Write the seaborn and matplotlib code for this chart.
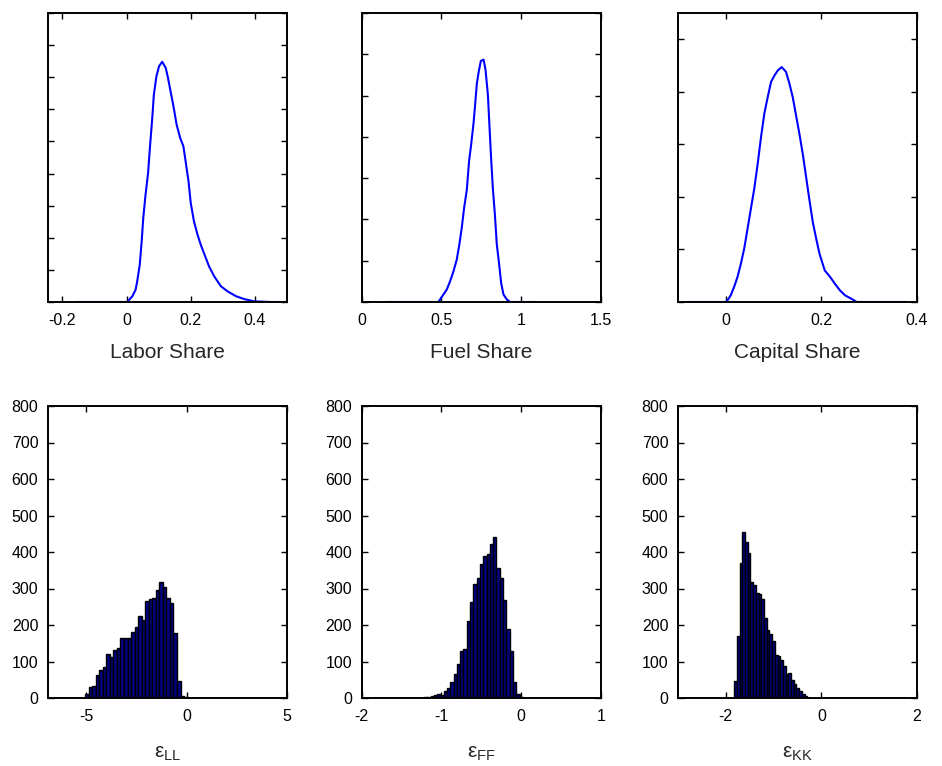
import numpy as np
import pandas as pd
import matplotlib
matplotlib.use("Agg")
import matplotlib.pyplot as plt
import seaborn as sns

# ---------------- data ----------------
labor_x = [-0.153, -0.05, 0.0, 0.002, 0.018, 0.028, 0.033, 0.041, 0.047, 0.052, 0.059, 0.067,
           0.073, 0.080, 0.085, 0.093, 0.101, 0.111, 0.122, 0.129, 0.138, 0.146,
           0.156, 0.167, 0.177, 0.184, 0.193, 0.200, 0.210, 0.221, 0.231, 0.245,
           0.257, 0.273, 0.294, 0.315, 0.341, 0.367, 0.398, 0.45, 0.52]
labor_y = [0.0, 0.0, 0.0, 0.0, 0.18, 0.38, 0.64, 1.16, 1.89, 2.62, 3.34, 4.02,
           4.85, 5.73, 6.46, 7.03, 7.34, 7.48, 7.29, 6.98, 6.51, 6.10,
           5.52, 5.11, 4.85, 4.38, 3.76, 3.08, 2.51, 2.10, 1.79, 1.42,
           1.11, 0.80, 0.49, 0.33, 0.18, 0.09, 0.02, 0.0, 0.0]

fuel_x = [0.16, 0.40, 0.481, 0.491, 0.512, 0.533, 0.554, 0.575, 0.596, 0.612, 0.627, 0.642,
          0.659, 0.673, 0.686, 0.701, 0.711, 0.722, 0.734, 0.747, 0.764, 0.776,
          0.791, 0.801, 0.810, 0.822, 0.835, 0.847, 0.862, 0.874, 0.889, 0.910,
          0.931, 1.0, 1.077]
fuel_y = [0.0, 0.0, 0.0, 0.06, 0.18, 0.30, 0.50, 0.74, 1.03, 1.39, 1.79, 2.28,
          2.72, 3.41, 3.81, 4.33, 4.78, 5.30, 5.59, 5.84, 5.87, 5.63,
          5.02, 4.25, 3.57, 2.76, 2.11, 1.39, 0.90, 0.46, 0.18, 0.06,
          0.0, 0.0, 0.0]

capital_x = [-0.079, -0.03, 0.0, 0.0035, 0.0105, 0.0175, 0.0246, 0.0316, 0.0386, 0.0456,
             0.0526, 0.0596, 0.0667, 0.0737, 0.0807, 0.0877, 0.0947, 0.1018, 0.109,
             0.117, 0.126, 0.133, 0.140, 0.147, 0.154, 0.161, 0.168, 0.175, 0.182,
             0.189, 0.196, 0.207, 0.218, 0.228, 0.239, 0.249, 0.263, 0.274, 0.33, 0.375]
capital_y = [0.0, 0.0, 0.0, 0.03, 0.13, 0.29, 0.48, 0.73, 1.02, 1.40,
             1.78, 2.16, 2.63, 3.14, 3.59, 3.90, 4.19, 4.31, 4.41,
             4.47, 4.38, 4.16, 3.90, 3.55, 3.20, 2.82, 2.38, 1.94, 1.52,
             1.21, 0.92, 0.60, 0.48, 0.35, 0.22, 0.13, 0.06, 0.0, 0.0, 0.0]

# histogram counts (bin range start, end, counts)
ll_range = (-5.05, 0.05)
ll_counts = [12, 29, 34, 62, 77, 85, 121, 113, 132, 138, 164, 164, 164, 182, 194,
             225, 214, 267, 271, 273, 296, 319, 305, 275, 260, 178, 46, 6, 3]

ff_range = (-1.22, 0.02)
ff_counts = [3, 4, 5, 8, 12, 9, 18, 28, 45, 65, 92, 130, 135, 212, 262, 312, 330,
             368, 390, 395, 422, 440, 355, 328, 268, 190, 130, 45, 12, 4]

kk_range = (-1.825, -0.295)
kk_counts = [46, 171, 369, 456, 428, 396, 319, 310, 287, 285, 271, 220, 187, 175,
             155, 117, 114, 103, 88, 66, 68, 50, 39, 27, 18, 12, 5]

top_labels = ["Labor Share", "Fuel Share", "Capital Share"]
top_xlims = [(-0.245, 0.5), (0.0, 1.5), (-0.1, 0.4)]
top_xticks = [[-0.2, 0, 0.2, 0.4], [0, 0.5, 1, 1.5], [0, 0.2, 0.4]]
top_xticklabels = [["-0.2", "0", "0.2", "0.4"], ["0", "0.5", "1", "1.5"], ["0", "0.2", "0.4"]]
top_ylims = [(0, 9), (0, 7), (0, 5.5)]
top_yticks = [list(range(0, 10)), list(range(0, 8)), list(range(0, 6))]

bot_labels = [r"$\mathrm{ε}_{\mathrm{LL}}$", r"$\mathrm{ε}_{\mathrm{FF}}$",
              r"$\mathrm{ε}_{\mathrm{KK}}$"]
bot_xlims = [(-6.9, 5), (-2, 1), (-3, 2)]
bot_xticks = [[-5, 0, 5], [-2, -1, 0, 1], [-2, 0, 2]]
bot_yticks = [0, 100, 200, 300, 400, 500, 600, 700, 800]

# ---------------- style ----------------
sns.set_style("white")
plt.rcParams["font.family"] = ["Liberation Sans", "DejaVu Sans"]
plt.rcParams["mathtext.fontset"] = "custom"
plt.rcParams["mathtext.rm"] = "Liberation Sans"
plt.rcParams["mathtext.it"] = "Liberation Sans:italic"

fig = plt.figure(figsize=(9.42, 7.66), dpi=100)
W, H = 942.0, 766.0
cols = [(48, 287), (361.7, 601), (678, 917)]
top_y = (13, 302)
bot_y = (406, 698)


def make_ax(c, r):
    x0, x1 = c
    y0, y1 = r
    return fig.add_axes([x0 / W, 1 - y1 / H, (x1 - x0) / W, (y1 - y0) / H])


def style_ax(ax):
    for s in ax.spines.values():
        s.set_visible(True)
        s.set_color("black")
        s.set_linewidth(1.4)
    ax.tick_params(direction="in", length=4, width=1.0, top=True, right=True,
                   bottom=True, left=True, colors="black")
    ax.tick_params(axis="x", labelsize=11.5, pad=8)
    ax.tick_params(axis="y", labelsize=11.5, pad=7)


curves = [(labor_x, labor_y), (fuel_x, fuel_y), (capital_x, capital_y)]
for i in range(3):
    ax = make_ax(cols[i], top_y)
    df = pd.DataFrame({"x": curves[i][0], "y": curves[i][1]})
    sns.lineplot(data=df, x="x", y="y", ax=ax, color="#0000ff", linewidth=1.5,
                 estimator=None, sort=False)
    ax.set_xlim(*top_xlims[i])
    ax.set_ylim(*top_ylims[i])
    ax.set_xticks(top_xticks[i])
    ax.set_xticklabels(top_xticklabels[i])
    ax.set_yticks(top_yticks[i])
    ax.set_yticklabels([])
    ax.set_ylabel("")
    ax.set_xlabel(top_labels[i], fontsize=15, labelpad=11)
    style_ax(ax)

hists = [(ll_range, ll_counts), (ff_range, ff_counts), (kk_range, kk_counts)]
for i in range(3):
    ax = make_ax(cols[i], bot_y)
    (lo, hi), counts = hists[i]
    edges = np.linspace(lo, hi, len(counts) + 1)
    centers = (edges[:-1] + edges[1:]) / 2
    df = pd.DataFrame({"x": centers, "w": counts})
    sns.histplot(data=df, x="x", weights="w", bins=edges.tolist(), ax=ax,
                 color="#000080", edgecolor="black", linewidth=1.0, alpha=1.0)
    ax.set_xlim(*bot_xlims[i])
    ax.set_ylim(0, 800)
    ax.set_xticks(bot_xticks[i])
    ax.set_xticklabels([str(t) for t in bot_xticks[i]])
    ax.set_yticks(bot_yticks)
    ax.set_ylabel("")
    ax.set_xlabel(bot_labels[i], fontsize=15, labelpad=14)
    style_ax(ax)

fig.savefig("out.png", dpi=100)
